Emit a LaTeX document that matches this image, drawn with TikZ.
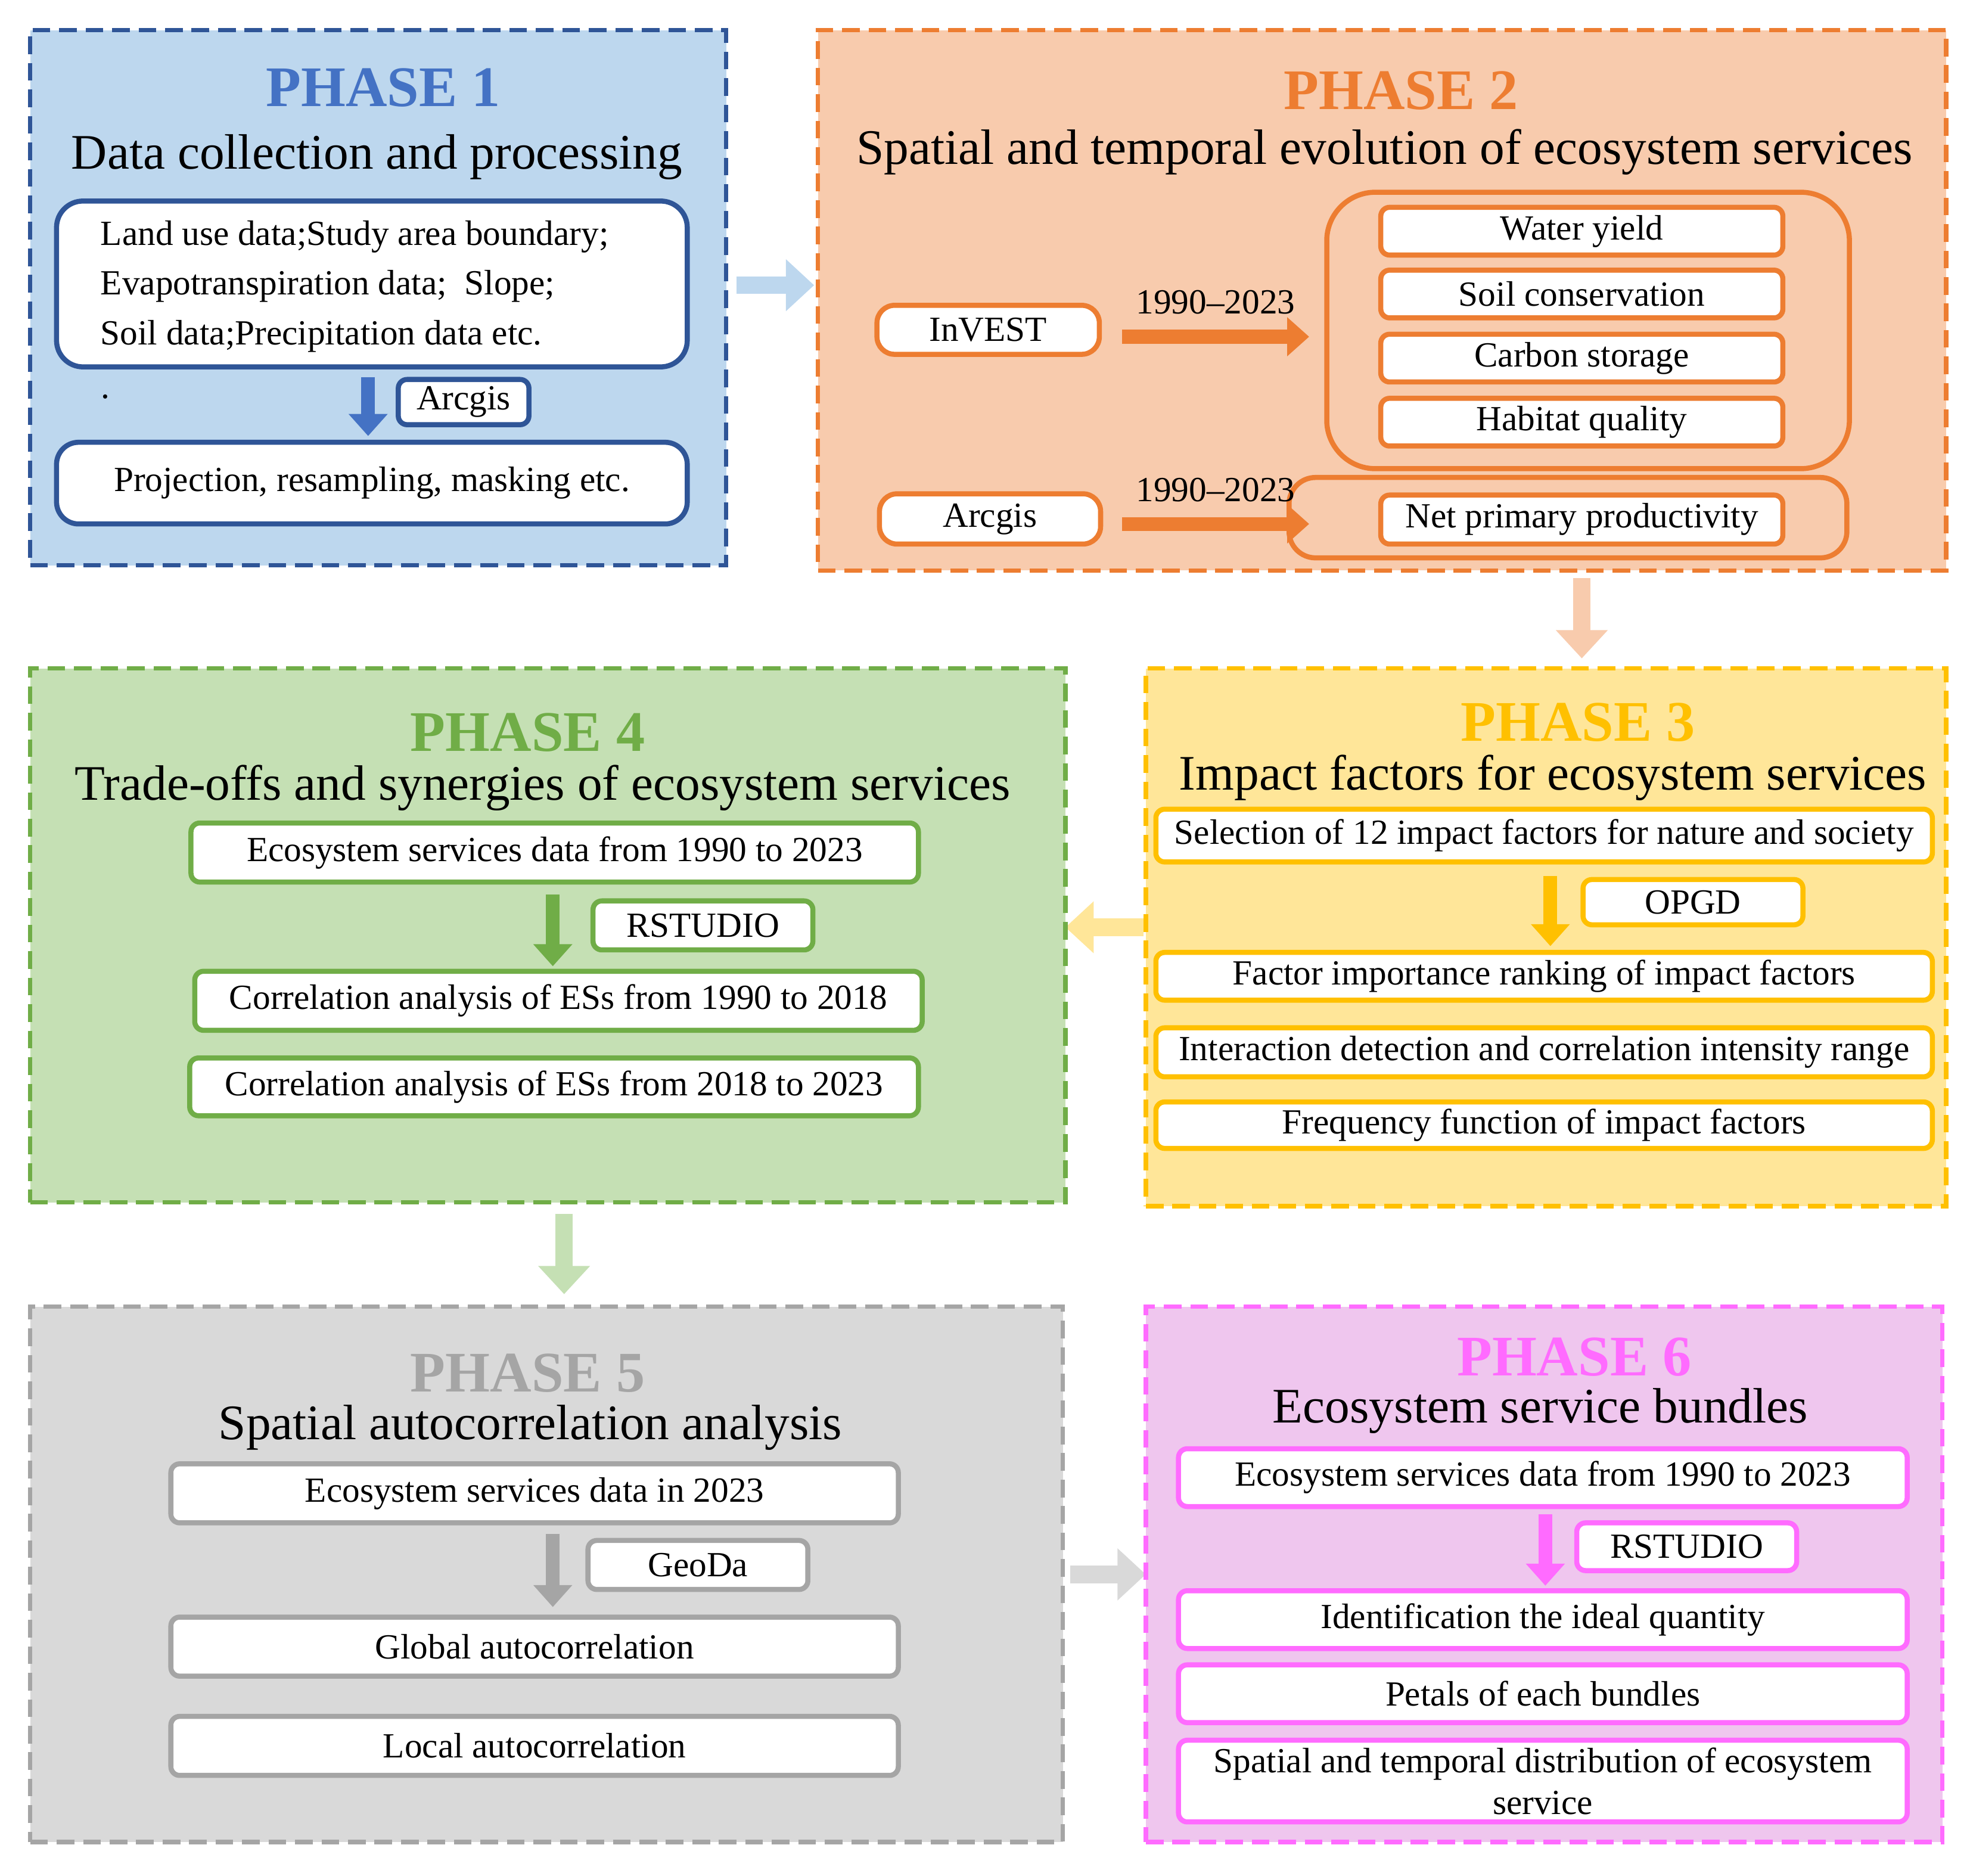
\documentclass[tikz,border=0pt]{standalone}
\usepackage{fontspec}
\setmainfont{Liberation Serif}
\usetikzlibrary{fit,arrows.meta}
\definecolor{b1}{HTML}{BDD7EE}\definecolor{b2}{HTML}{2F5597}\definecolor{b3}{HTML}{4472C4}
\definecolor{o1}{HTML}{F8CBAD}\definecolor{o2}{HTML}{ED7D31}
\definecolor{y1}{HTML}{FFE699}\definecolor{y2}{HTML}{FFC000}
\definecolor{g1}{HTML}{C5E0B4}\definecolor{g2}{HTML}{70AD47}
\definecolor{s1}{HTML}{D9D9D9}\definecolor{s2}{HTML}{A5A5A5}
\definecolor{m1}{HTML}{EFC6EE}\definecolor{m2}{HTML}{FF6BFF}
\newcommand{\mybx}[6][]{\node[box=#3,#1, fit={#4}] (#2) {}; \node[lbl, align=center] (#2t) at (#2) {#6};}
\begin{document}
\begin{tikzpicture}[x=0.02cm,y=-0.02cm,
 phase/.style={draw=#1, dashed, dash pattern=on 8pt off 4pt, line width=2pt, inner sep=0pt},
 box/.style={draw=#1, fill=white, line width=2.3pt, rounded corners=4pt, inner sep=0pt},
 ph/.style={font=\fontsize{26}{30}\selectfont\bfseries, text=#1},
 sub/.style={font=\fontsize{22.5}{26}\selectfont},
 big/.style={line width=0.28cm, draw=#1, -{Triangle[length=0.45cm,width=0.8cm]}},
 sm/.style={line width=0.22cm, draw=#1, -{Triangle[length=0.35cm,width=0.6cm]}},
 lbl/.style={font=\fontsize{16}{19}\selectfont, inner sep=1pt}]
\useasboundingbox (0,0) rectangle (1568,1493);
\fill[white] (0,0) rectangle (1568,1493);
% PHASE 1
\node[phase=b2, fill=b1, fit={(24,24)(578,450)}] (P1) {};
\node[ph=b3] (t1) at (305,70) {PHASE 1};
\node[sub] (s1) at (300,125) {Data collection and processing};
\node[box=b2, rounded corners=12pt, fit={(45,160)(547,292)}] (a1) {};
\node[lbl, align=left, anchor=west, font=\fontsize{16}{22.5}\selectfont] (a1t) at (78,228) {Land use data;Study area boundary;\\Evapotranspiration data;\ \ Slope;\\Soil data;Precipitation data etc.};
\node[lbl] (dot) at (84,316) {.};
\mybx{a2}{b2}{(317,302)(421,338)}{}{Arcgis}
\mybx[rounded corners=10pt]{a3}{b2}{(45,352)(547,417)}{}{Projection, resampling, masking etc.}
\coordinate (a1b) at (293,300); \coordinate (a3t) at (293,347);
\draw[sm=b3] (a1b) -- (a3t);
\coordinate (c12a) at (586,227); \coordinate (c12b) at (648,227);
\draw[big=b1] (c12a) -- (c12b);
% PHASE 2
\node[phase=o2, fill=o1, fit={(651,24)(1549,454)}] (P2) {};
\node[ph=o2] (t2) at (1115,72) {PHASE 2};
\node[sub] (s2) at (1102,121) {Spatial and temporal evolution of ecosystem services};
\mybx[rounded corners=8pt]{inv}{o2}{(698,243)(875,282)}{}{InVEST}
\node[box=o2, fill=none, rounded corners=22pt, fit={(1056,153)(1472,373)}] (grp) {};
\mybx{w1}{o2}{(1099,165)(1419,203)}{}{Water yield}
\mybx{w2}{o2}{(1099,215)(1419,253)}{}{Soil conservation}
\mybx{w3}{o2}{(1099,266)(1419,304)}{}{Carbon storage}
\mybx{w4}{o2}{(1099,317)(1419,355)}{}{Habitat quality}
\mybx[rounded corners=8pt]{arc2}{o2}{(700,393)(876,433)}{}{Arcgis}
\node[box=o2, fill=none, rounded corners=12pt, fit={(1026,380)(1470,444)}] (npo) {};
\mybx{npp}{o2}{(1099,394)(1419,433)}{}{Net primary productivity}
\coordinate (i1) at (893,268); \coordinate (i2) at (1042,268);
\draw[sm=o2] (i1) -- node[lbl, above=6pt] {1990--2023} (i2);
\coordinate (j1) at (893,417); \coordinate (j2) at (1042,417);
\draw[sm=o2] (j1) -- node[lbl, above=6pt] {1990--2023} (j2);
\coordinate (c23a) at (1259,460); \coordinate (c23b) at (1259,524);
\draw[big=o1] (c23a) -- (c23b);
% PHASE 3
\node[phase=y2, fill=y1, fit={(912,532)(1549,960)}] (P3) {};
\node[ph=y2] (t3) at (1256,575) {PHASE 3};
\node[sub] (s3) at (1236,619) {Impact factors for ecosystem services};
\mybx{f1}{y2}{(920,644)(1538,686)}{}{Selection of 12 impact factors for nature and society}
\mybx{opgd}{y2}{(1260,700)(1435,736)}{}{OPGD}
\mybx{f2}{y2}{(920,758)(1538,796)}{}{Factor importance ranking of impact factors}
\mybx{f3}{y2}{(920,818)(1538,857)}{}{Interaction detection and correlation intensity range}
\mybx{f4}{y2}{(920,877)(1538,914)}{}{Frequency function of impact factors}
\coordinate (f1b) at (1234,697); \coordinate (f2t) at (1234,753);
\draw[sm=y2] (f1b) -- (f2t);
\coordinate (c34a) at (910,738); \coordinate (c34b) at (848,738);
\draw[big=y1] (c34a) -- (c34b);
% PHASE 4
\node[phase=g2, fill=g1, fit={(24,532)(848,957)}] (P4) {};
\node[ph=g2] (t4) at (420,583) {PHASE 4};
\node[sub] (s4) at (432,627) {Trade-offs and synergies of ecosystem services};
\mybx{e1}{g2}{(152,655)(731,702)}{}{Ecosystem services data from 1990 to 2023}
\mybx{rs1}{g2}{(472,717)(647,756)}{}{RSTUDIO}
\mybx{e2}{g2}{(155,773)(734,820)}{}{Correlation analysis of ESs from 1990 to 2018}
\mybx{e3}{g2}{(151,842)(731,888)}{}{Correlation analysis of ESs from 2018 to 2023}
\coordinate (e1b) at (440,712); \coordinate (e2t) at (440,769);
\draw[sm=g2] (e1b) -- (e2t);
\coordinate (c45a) at (449,966); \coordinate (c45b) at (449,1030);
\draw[big=g1] (c45a) -- (c45b);
% PHASE 5
\node[phase=s2, fill=s1, fit={(24,1040)(846,1466)}] (P5) {};
\node[ph=s2] (t5) at (420,1093) {PHASE 5};
\node[sub] (s5) at (422,1136) {Spatial autocorrelation analysis};
\mybx{g1}{s2}{(136,1165)(715,1212)}{}{Ecosystem services data in 2023}
\mybx{geo}{s2}{(468,1226)(643,1265)}{}{GeoDa}
\mybx{g2}{s2}{(136,1287)(715,1334)}{}{Global autocorrelation}
\mybx{g3}{s2}{(136,1366)(715,1413)}{}{Local autocorrelation}
\coordinate (g1b) at (440,1221); \coordinate (g2t) at (440,1279);
\draw[sm=s2] (g1b) -- (g2t);
\coordinate (c56a) at (852,1253); \coordinate (c56b) at (912,1253);
\draw[big=s1] (c56a) -- (c56b);
% PHASE 6
\node[phase=m2, fill=m1, fit={(912,1040)(1546,1466)}] (P6) {};
\node[ph=m2] (t6) at (1253,1080) {PHASE 6};
\node[sub] (s6) at (1226,1123) {Ecosystem service bundles};
\mybx{h1}{m2}{(938,1153)(1518,1199)}{}{Ecosystem services data from 1990 to 2023}
\mybx{rs2}{m2}{(1255,1212)(1430,1250)}{}{RSTUDIO}
\mybx{h2}{m2}{(938,1266)(1518,1312)}{}{Identification the ideal quantity}
\mybx{h3}{m2}{(938,1325)(1518,1371)}{}{Petals of each bundles}
\mybx{h4}{m2}{(938,1385)(1518,1450)}{}{Spatial and temporal distribution of ecosystem\\service}
\coordinate (h1b) at (1230,1205); \coordinate (h2t) at (1230,1262);
\draw[sm=m2] (h1b) -- (h2t);
\end{tikzpicture}
\end{document}
